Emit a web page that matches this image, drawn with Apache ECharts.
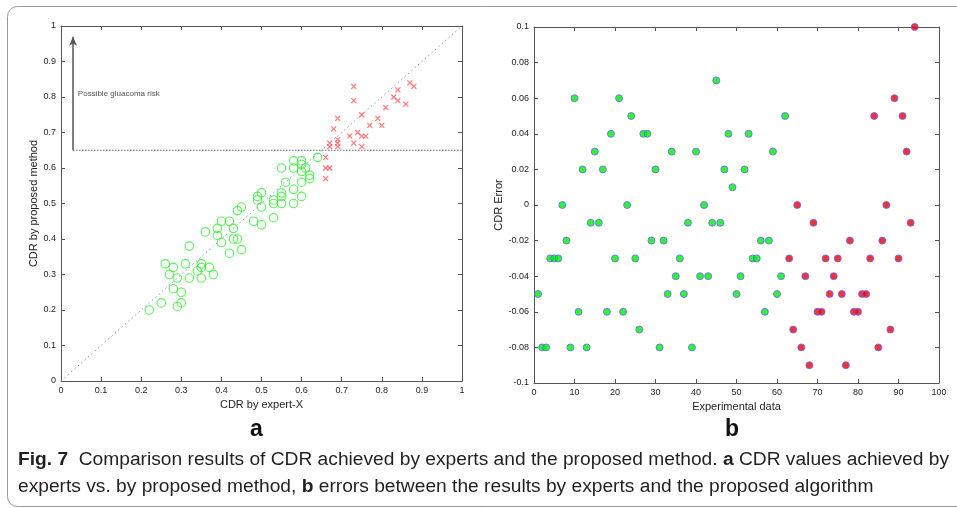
<!DOCTYPE html>
<html><head><meta charset="utf-8">
<script src="https://cdn.jsdelivr.net/npm/echarts@6/dist/echarts.min.js"></script>
<style>html,body{margin:0;padding:0;background:#fff;}#c{width:957px;height:508px;}</style>
</head><body><div id="c"></div>
<script>
// Panel a: CDR by expert-X (x) vs CDR by proposed method (y)
const normalX = [0.22,0.25,0.26,0.27,0.28,0.28,0.29,0.29,0.30,0.30,0.31,0.32,0.32,0.34,0.35,0.35,0.35,0.36,0.37,0.38,0.39,0.39,0.40,0.40,0.42,0.42,0.43,0.43,0.44,0.44,0.45,0.45,0.48,0.49,0.49,0.50,0.50,0.50,0.53,0.53,0.53,0.55,0.55,0.55,0.55,0.56,0.58,0.58,0.58,0.58,0.60,0.60,0.60,0.60,0.60,0.61,0.62,0.62,0.64];
const normalY = [0.20,0.22,0.33,0.30,0.32,0.26,0.29,0.21,0.25,0.22,0.33,0.38,0.29,0.31,0.33,0.32,0.29,0.42,0.32,0.30,0.43,0.41,0.45,0.39,0.45,0.36,0.43,0.40,0.48,0.40,0.49,0.37,0.45,0.52,0.51,0.53,0.49,0.44,0.51,0.50,0.46,0.53,0.52,0.60,0.50,0.56,0.62,0.60,0.54,0.50,0.62,0.61,0.59,0.56,0.52,0.60,0.58,0.57,0.63];
const riskX = [0.73,0.73,0.69,0.75,0.68,0.72,0.74,0.75,0.76,0.77,0.79,0.80,0.81,0.83,0.84,0.84,0.86,0.87,0.88,0.67,0.67,0.69,0.69,0.69,0.73,0.75,0.66,0.66,0.67,0.66];
const riskY = [0.83,0.79,0.74,0.75,0.71,0.69,0.70,0.69,0.69,0.72,0.74,0.72,0.77,0.80,0.82,0.79,0.78,0.84,0.83,0.67,0.66,0.68,0.67,0.66,0.67,0.66,0.63,0.60,0.60,0.57];
const riskThreshold = 0.65;
const arrowX = 0.03, arrowTop = 0.97;
const riskText = 'Possible gluacoma risk';

// Panel b: CDR error per experiment (1..94); first 62 green, rest red
const errGreen = [-0.05,-0.08,-0.08,-0.03,-0.03,-0.03,0,-0.02,-0.08,0.06,-0.06,0.02,-0.08,-0.01,0.03,-0.01,0.02,-0.06,0.04,-0.03,0.06,-0.06,0,0.05,-0.03,-0.07,0.04,0.04,-0.02,0.02,-0.08,-0.02,-0.05,0.03,-0.04,-0.03,-0.05,-0.01,-0.08,0.03,-0.04,0,-0.04,-0.01,0.07,-0.01,0.02,0.04,0.01,-0.05,-0.04,0.02,0.04,-0.03,-0.03,-0.02,-0.06,-0.02,0.03,-0.05,-0.04,0.05];
const errRed = [-0.03,-0.07,0,-0.08,-0.04,-0.09,-0.01,-0.06,-0.06,-0.03,-0.05,-0.04,-0.03,-0.05,-0.09,-0.02,-0.06,-0.06,-0.05,-0.05,-0.03,0.05,-0.08,-0.02,0,-0.07,0.06,-0.03,0.05,0.03,-0.01,0.1];

const greenPts = errGreen.map((v,i)=>[i+1,v]);
const redPts = errRed.map((v,i)=>[errGreen.length+i+1,v]);

const axCol = '#555';
const lblStyle = {color:'#222', fontSize:9, fontFamily:'Liberation Sans, Arial, sans-serif'};
const nameStyle = {color:'#222', fontSize:11, fontFamily:'Liberation Sans, Arial, sans-serif'};

function boxAxes(gi, min, max, interval, isX, name, nameGap, fmt){
  const main = {gridIndex:gi, type:'value', min, max, interval,
    position: isX?'bottom':'left',
    axisLine:{show:true,onZero:false,lineStyle:{color:axCol,width:1}},
    axisTick:{show:true,inside:true,length:4,lineStyle:{color:axCol}},
    axisLabel:Object.assign({margin:5, formatter:fmt, showMinLabel:true, showMaxLabel:true}, lblStyle),
    splitLine:{show:false},
    name, nameLocation:'middle', nameGap, nameTextStyle:nameStyle};
  const mirror = {gridIndex:gi, type:'value', min, max, interval,
    position: isX?'top':'right',
    axisLine:{show:true,onZero:false,lineStyle:{color:axCol,width:1}},
    axisTick:{show:true,inside:true,length:4,lineStyle:{color:axCol}},
    axisLabel:{show:false}, splitLine:{show:false}};
  return [main, mirror];
}
const fmtA = v => String(Math.round(v*10)/10);
const fmtB = v => { const r = Math.round(v*100)/100; return String(r); };
const fmtX = v => String(Math.round(v));

const [xa0, xa1] = boxAxes(0, 0, 1, 0.1, true, 'CDR by expert-X', 16, fmtA);
const [ya0, ya1] = boxAxes(0, 0, 1, 0.1, false, 'CDR by proposed method', 22, fmtA);
const [xb0, xb1] = boxAxes(1, 0, 100, 10, true, 'Experimental data', 16, fmtX);
const [yb0, yb1] = boxAxes(1, -0.1, 0.1, 0.02, false, 'CDR Error', 26, fmtB);

const chart = echarts.init(document.getElementById('c'), null, {renderer:'canvas'});
chart.setOption({
  animation:false,
  backgroundColor:'#fff',
  grid:[
    {left:61, top:26, width:401, height:355},
    {left:534, top:27, width:405, height:356}
  ],
  xAxis:[xa0, xa1, xb0, xb1],
  yAxis:[ya0, ya1, yb0, yb1],
  series:[
    {type:'line', xAxisIndex:0, yAxisIndex:0, data:[[0,0],[1,1]], symbol:'none',
     lineStyle:{color:'#8888ff', width:1, type:[1.5,3]}, z:1},
    {type:'line', xAxisIndex:0, yAxisIndex:0, data:[[arrowX,riskThreshold],[1,riskThreshold]], symbol:'none',
     lineStyle:{color:'#666', width:1, type:[1.5,1.5]}, z:1},
    {type:'scatter', xAxisIndex:0, yAxisIndex:0, data:[], z:3,
     markLine:{silent:true, symbol:['none','arrow'], symbolSize:[6,9],
       lineStyle:{color:'#555', width:1.5, type:'solid'}, label:{show:false},
       data:[[{coord:[arrowX,riskThreshold]},{coord:[arrowX,arrowTop]}]]}},
    {type:'scatter', xAxisIndex:0, yAxisIndex:0, data:[[arrowX+0.012,0.81]], symbolSize:0,
     label:{show:true, position:'right', distance:0, formatter:riskText, color:'#222', fontSize:8, fontFamily:'Liberation Sans, Arial, sans-serif'}},
    {type:'scatter', xAxisIndex:0, yAxisIndex:0, data:normalX.map((x,i)=>[x,normalY[i]]),
     symbol:'circle', symbolSize:8.5, itemStyle:{color:'transparent', borderColor:'#33ee33', borderWidth:1.1}, z:2},
    {type:'scatter', xAxisIndex:0, yAxisIndex:0, data:riskX.map((x,i)=>[x,riskY[i]]),
     symbol:'path://M0,0L10,10M10,0L0,10', symbolSize:5, itemStyle:{color:'transparent', borderColor:'#ff5555', borderWidth:1.2}, z:2},
    {type:'scatter', xAxisIndex:2, yAxisIndex:2, data:greenPts, symbol:'circle', symbolSize:7,
     itemStyle:{color:'#00ee00', borderColor:'#6666ff', borderWidth:1}},
    {type:'scatter', xAxisIndex:2, yAxisIndex:2, data:redPts, symbol:'circle', symbolSize:7,
     itemStyle:{color:'#ee0000', borderColor:'#6666ff', borderWidth:1}}
  ],
  graphic:[
    {type:'rect', shape:{x:7.5, y:6.5, width:990, height:500, r:10}, style:{fill:'none', stroke:'#999', lineWidth:1}, silent:true},
    {type:'text', left:250, top:418, style:{text:'a', fontSize:23, fontWeight:'bold', fill:'#111', fontFamily:'Liberation Sans, Arial, sans-serif'}},
    {type:'text', left:725, top:418, style:{text:'b', fontSize:23, fontWeight:'bold', fill:'#111', fontFamily:'Liberation Sans, Arial, sans-serif'}},
    {type:'text', left:18, top:446, style:{
      text:'{b|Fig. 7}  Comparison results of CDR achieved by experts and the proposed method. {b|a} CDR values achieved by\nexperts vs. by proposed method, {b|b} errors between the results by experts and the proposed algorithm',
      fontSize:19.2, lineHeight:27, fill:'#231f20', fontFamily:'Liberation Sans, sans-serif',
      rich:{b:{fontWeight:'bold', fontSize:19.2, fontFamily:'Liberation Sans, sans-serif', fill:'#231f20'}}}}
  ]
});
</script></body></html>
